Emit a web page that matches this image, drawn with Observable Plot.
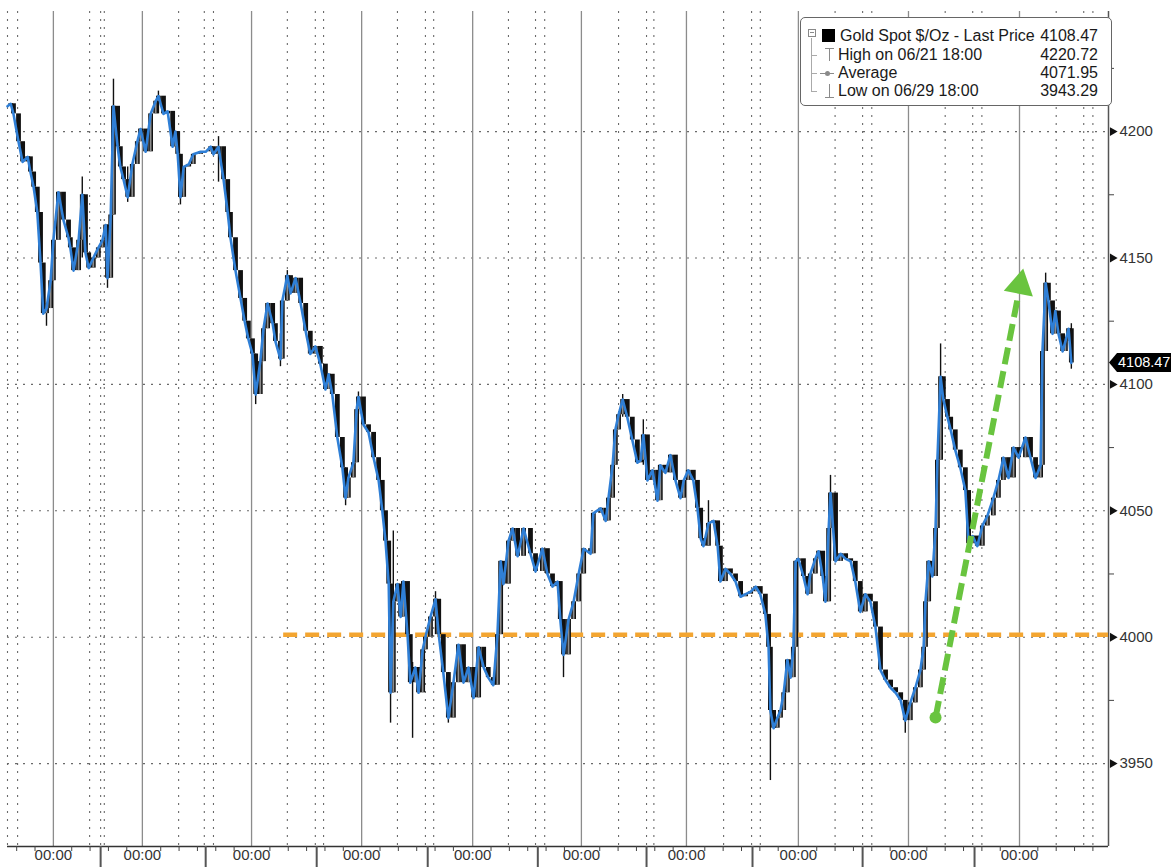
<!DOCTYPE html>
<html><head><meta charset="utf-8">
<script src="https://cdn.jsdelivr.net/npm/d3@7"></script>
<script src="https://cdn.jsdelivr.net/npm/@observablehq/plot@0.6"></script>
<style>
body{margin:0;background:#fff;}
#wrap{position:relative;width:1171px;height:867px;overflow:hidden;font-family:"Liberation Sans",Arial,sans-serif;}
#wrap svg{display:block;}
#legend{position:absolute;left:800px;top:17px;width:312px;height:89px;border:1px solid #666;border-radius:5px;background:#fff;box-sizing:border-box;color:#1a1a1a;font-size:16px;}
#legend .t{position:absolute;height:18px;line-height:18px;white-space:nowrap;}
#legend .v{position:absolute;right:13px;height:18px;line-height:18px;text-align:right;}
#legend .g{position:absolute;background:#8a8a8a;}
#tag{position:absolute;height:19px;background:#000;color:#fff;font-size:14.5px;line-height:19px;padding-left:9px;width:70px;clip-path:polygon(0 50%,8px 0,100% 0,100% 100%,8px 100%);}
</style></head><body><div id="wrap"></div>
<script>
// ---- data ----
const hours = [0,0.7,1.3,2.4,3.3,4.4,5.0,5.7,6.5,7.2,7.8,8.5,9.4,10.0,11.1,12.2,13.3,13.7,14.4,15.5,16.3,17.0,17.7,18.7,19.8,20.7,21.4,21.8,22.5,23.1,24.0,24.6,25.3,26.2,27.2,28.3,29.0,30.1,31.2,32.3,32.9,34.0,34.9,36.0,36.6,37.1,37.7,38.4,39.5,40.5,42.1,43.2,44.3,44.9,46.0,47.1,48.0,48.6,49.7,50.8,51.7,52.5,53.4,54.1,55.1,55.8,56.7,57.8,58.4,59.5,59.9,61.0,61.7,62.8,63.9,65.0,66.0,67.1,68.2,69.3,70.0,70.8,71.9,73.0,73.7,74.3,75.4,76.1,76.5,77.6,78.7,79.8,80.9,81.7,82.4,83.1,83.5,84.1,85.0,85.7,86.3,87.2,87.8,88.9,89.6,90.5,91.1,92.2,93.3,94.0,95.0,96.1,97.2,98.3,99.4,100.5,101.6,102.7,103.8,104.8,105.9,106.8,107.5,108.1,109.2,110.1,111.2,112.5,114.0,115.1,116.6,117.7,118.8,119.9,120.5,121.2,122.3,123.4,124.5,125.6,127.1,127.7,129.3,130.4,131.0,131.9,132.5,133.2,134.1,135.1,136.2,137.3,138.0,138.6,139.5,140.6,141.7,142.3,143.4,144.5,145.6,146.7,147.4,148.4,149.5,150.4,151.1,151.7,152.8,153.9,154.8,155.4,156.5,157.6,158.7,159.8,160.9,162.0,163.1,164.1,165.2,165.9,166.3,167.0,167.8,168.5,169.2,170.0,170.7,171.3,171.8,172.4,173.5,174.4,175.0,176.1,176.8,177.7,178.3,179.0,179.4,180.5,181.6,182.7,183.8,184.8,185.9,187.0,188.1,189.2,190.3,191.4,192.5,193.6,194.7,195.7,196.8,197.9,199.0,199.7,200.1,200.8,201.6,202.3,202.7,203.4,204.0,204.9,205.6,206.6,207.7,208.8,209.5,210.4,211.4,212.5,213.6,214.9,216.0,217.1,218.2,219.3,220.4,221.9,223.0,224.1,225.2,225.6,226.3,226.9,227.8,228.4,229.1,230.0,230.6,231.3,231.9];
const prices = [4210,4211,4207,4196,4188,4190,4184,4178,4168,4148,4128,4130,4141,4157,4176,4165,4158,4154,4145,4157,4175,4152,4146,4150,4154,4157,4163,4142,4167,4210,4194,4186,4181,4174,4187,4196,4201,4192,4207,4212,4214,4207,4208,4194,4200,4191,4174,4186,4187,4191,4192,4192,4194,4191,4194,4181,4168,4158,4145,4134,4125,4118,4112,4096,4109,4122,4132,4124,4117,4110,4133,4143,4136,4142,4132,4121,4112,4115,4108,4098,4104,4096,4079,4067,4055,4063,4069,4090,4095,4084,4081,4071,4062,4050,4038,4021,3978,4014,4021,4008,4022,4001,3982,3988,3978,3995,4000,4008,4015,4001,3986,3968,3982,3997,3982,3988,3976,3996,3988,3984,3981,4001,4030,4021,4038,4043,4032,4043,4033,4026,4035,4025,4020,4022,4007,3993,4007,4014,4025,4035,4033,4049,4051,4046,4055,4068,4082,4088,4094,4087,4078,4069,4070,4080,4062,4066,4054,4068,4065,4072,4062,4055,4062,4066,4062,4051,4039,4036,4045,4046,4036,4022,4027,4025,4022,4016,4017,4018,4020,4017,4009,3996,3971,3964,3968,3971,3978,3991,3984,3996,4030,4031,4024,4017,4025,4031,4034,4024,4014,4043,4057,4030,4033,4031,4030,4022,4010,4017,4014,4004,3987,3983,3980,3978,3975,3967,3974,3980,3987,3996,4014,4030,4024,4043,4070,4103,4094,4087,4082,4074,4067,4058,4037,4040,4036,4044,4048,4055,4062,4071,4063,4075,4071,4079,4071,4063,4068,4113,4140,4133,4120,4129,4120,4113,4117,4122,4108.47];
// notable wicks: hour, low, high
const wickHour = [8.5,16.3,21.8,23.1,26.2,32.9,37.7,46.0,54.1,59.5,61.0,73.7,76.5,83.5,84.1,88.3,93.3,96.1,121.2,134.1,138.6,152.8,166.3,179.4,195.7,203.4,226.3,231.9];
const wickLow  = [4123,4150,4138,4167,4172,4207,4171,4180,4092,4107,4133,4052,4088,3966,3978,3960,4001,3966,3984,4087,4068,4036,3943.29,4030,3962,4070,4113,4106];
const wickHigh = [4132,4182,4163,4220.72,4186,4216,4191,4198,4112,4120,4145,4067,4097,4021,4042,3990,4018,3986,4007,4096,4086,4054,3996,4064,3975,4116,4144,4124];
// time axis (trading hours)
const midnights = [10,29.4,53.2,77.2,101.4,125.1,148,172.4,196.4,220.6];
const dottedHours = [0,2.2,17.9,20.3,21.1,37.3,42.9,44.9,61.0,67.1,68.9,85.0,91.1,92.9,109.2,115.1,117.1,133.2,139.3,140.9,156.1,162.2,164.1,180.4,186.4,188.4,204.4,210.4,212.4,228.6,234.6,236.6];
const sessionBreaks = [20.3,43.2,67.4,91.6,115.6,139.3,162.4,186.4,210.8];
const xLabel = "00:00";
const yTicks = [3950,4000,4050,4100,4150,4200];
const yMinor = [3975,4025,4075,4125,4175,4225];
const supportLevel = 4001, supportFrom = 60.2;
const arrowStart = {h: 202.3, p: 3968.2};
const arrowBase = {h: 220.3, p: 4135};
const arrowHead = {h: 220.7, p: 4139.2};
const lastPrice = 4108.47;
const legendRows = [
  ["Gold Spot $/Oz - Last Price","4108.47"],
  ["High on 06/21 18:00","4220.72"],
  ["Average","4071.95"],
  ["Low on 06/29 18:00","3943.29"]
];

// ---- build ----
const xMax = 240, yMin = 3917.2, yMax = 4247.5;
const n = Math.min(hours.length, prices.length);
const rows = d3.range(n).map(i => ({h: hours[i], c: prices[i], o: i ? prices[i-1] : prices[i]}));
const bodies = rows.slice(1);
const wicks = wickHour.map((h,i) => ({h, lo: wickLow[i], hi: wickHigh[i]}));
const minorX = [];
[midnights[0]-24, ...midnights].forEach((m, i, arr) => {
  const next = i < arr.length-1 ? arr[i+1] : m + 24;
  for (const k of [4,8,12,16,20]) { const t = m + k; if (t < next - 1 && t > 0 && t < xMax) minorX.push(t); }
});
const green = "#69c43f", orange = "#f3a531";

const chart = Plot.plot({
  width: 1171, height: 867,
  marginLeft: 7, marginRight: 63, marginTop: 11, marginBottom: 21,
  x: {domain: [0, xMax], axis: null},
  y: {domain: [yMin, yMax], axis: null},
  style: {fontFamily: "'Liberation Sans', Arial, sans-serif", fontSize: "15px", color: "#333", background: "white"},
  marks: [
    Plot.ruleY(yTicks, {stroke: "#6a6a6a", strokeDasharray: "2,6", strokeWidth: 1.1}),
    Plot.ruleX(dottedHours, {stroke: "#6a6a6a", strokeDasharray: "2,6", strokeWidth: 1.1}),
    Plot.ruleX(midnights, {stroke: "#8c8c8c", strokeWidth: 1.3}),
    Plot.ruleX([xMax], {stroke: "#555", strokeWidth: 1.5}),
    Plot.ruleY([yMin], {stroke: "#333", strokeWidth: 1.5}),
    Plot.axisX(midnights, {tickSize: 0, tickPadding: 3, tickFormat: () => xLabel, label: null, fontSize: 15}),
    Plot.axisX(minorX, {tickSize: 5, tickFormat: () => "", label: null, stroke: "#444"}),
    Plot.axisX(sessionBreaks, {tickSize: 21, tickFormat: () => "", label: null, stroke: "#555", strokeWidth: 2}),
    Plot.axisY(yMinor, {anchor: "right", tickSize: 5, tickFormat: () => "", label: null, stroke: "#444"}),
    Plot.axisY(yTicks, {anchor: "right", tickSize: 0, tickPadding: 11, label: null, fontSize: 15, tickFormat: d => String(d)}),
    Plot.dot(yTicks, {x: () => xMax, y: d => d, symbol: "triangle", rotate: 90, r: 3.3, fill: "#111", dx: 4}),
    Plot.ruleY([supportLevel], {x1: supportFrom, x2: xMax, stroke: orange, strokeWidth: 4.5, strokeDasharray: "14,8"}),
    Plot.ruleX(wicks, {x: "h", y1: "lo", y2: "hi", stroke: "#111", strokeWidth: 1.4}),
    Plot.ruleX(bodies, {x: "h", y1: "o", y2: "c", stroke: "#111", strokeWidth: 4.8}),
    Plot.ruleX(bodies.filter(d => d.c > d.o), {x: "h", y1: "o", y2: "c", stroke: "#8d8d8d", strokeWidth: 1.8}),
    Plot.line(rows, {x: "h", y: "c", stroke: "#2f7fd6", strokeWidth: 2.6}),
    Plot.link([0], {x1: () => arrowStart.h, y1: () => arrowStart.p, x2: () => arrowBase.h, y2: () => arrowBase.p, stroke: green, strokeWidth: 6, strokeDasharray: "17,7"}),
    Plot.dot([arrowStart], {x: "h", y: "p", r: 6, fill: green}),
    Plot.dot([arrowHead], {x: "h", y: "p", symbol: "triangle", rotate: 11, r: 11, fill: green})
  ]
});
const wrap = document.getElementById("wrap");
wrap.appendChild(chart);

// last price tag
const ty = chart.scale("y").apply(lastPrice), tx = chart.scale("x").apply(xMax);
const tag = document.createElement("div");
tag.id = "tag"; tag.textContent = legendRows[0][1];
tag.style.left = (tx + 1) + "px"; tag.style.top = (ty - 9.5) + "px";
wrap.appendChild(tag);

// legend
const lg = document.createElement("div");
lg.id = "legend";
const centers = [18, 37, 55, 73];
let html = "";
legendRows.forEach((r, i) => {
  html += `<div class="t" style="left:${i ? 37 : 39}px;top:${centers[i]-9}px">${r[0]}</div>`;
  html += `<div class="v" style="top:${centers[i]-9}px">${r[1]}</div>`;
});
// tree & icons
html += `<div style="position:absolute;left:7px;top:11px;width:6px;height:6px;border:1px solid #888;"></div>`;
html += `<div class="g" style="left:9px;top:14px;width:4px;height:1px"></div>`;
html += `<div class="g" style="left:10px;top:20px;width:1px;height:53px;background:#aaa"></div>`;
[37,55,73].forEach(c => { html += `<div class="g" style="left:10px;top:${c}px;width:6px;height:1px;background:#aaa"></div>`; });
html += `<div style="position:absolute;left:21px;top:11px;width:13px;height:13px;background:#000"></div>`;
html += `<div class="g" style="left:24px;top:30px;width:9px;height:1px"></div><div class="g" style="left:28px;top:30px;width:1px;height:13px"></div>`;
html += `<div class="g" style="left:19px;top:55px;width:14px;height:1px"></div><div class="g" style="left:24px;top:53px;width:5px;height:5px;border-radius:3px"></div>`;
html += `<div class="g" style="left:28px;top:66px;width:1px;height:13px"></div><div class="g" style="left:24px;top:79px;width:9px;height:1px"></div>`;
lg.innerHTML = html;
wrap.appendChild(lg);
</script>
</body></html>
